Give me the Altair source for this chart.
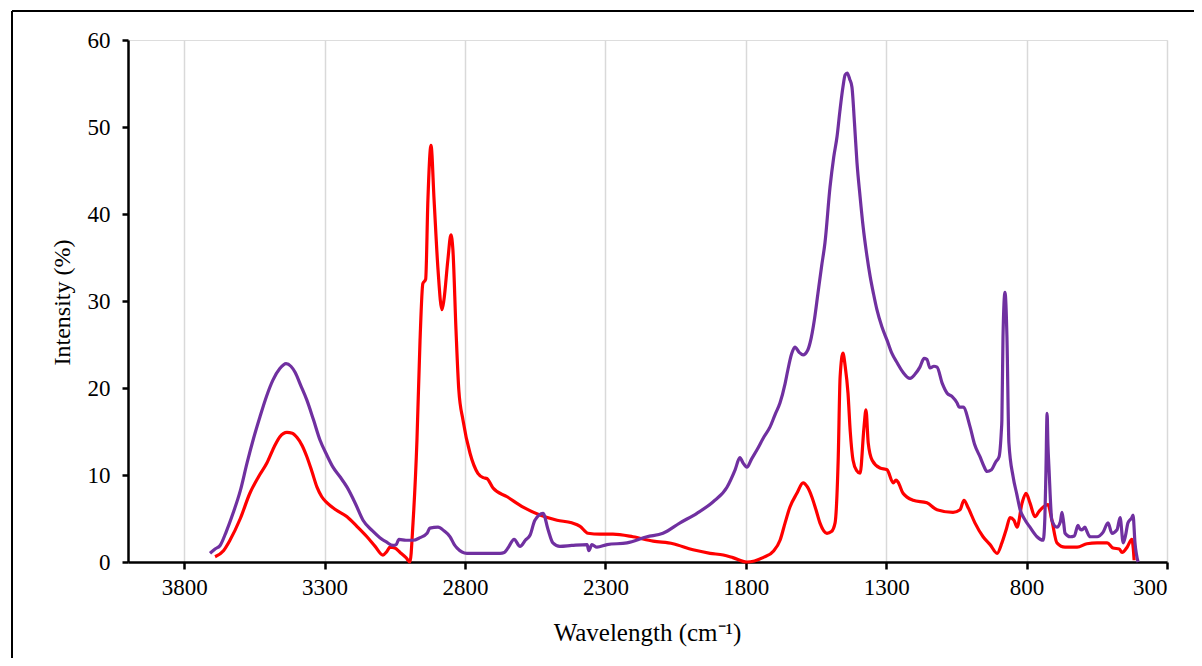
import altair as alt
import pandas as pd

# Red spectrum (wavenumber, intensity)
red_wn = [3690, 3660, 3637, 3600, 3566, 3535, 3505, 3480, 3459, 3434, 3415, 3398, 3380, 3363, 3345, 3327,
          3310, 3291, 3260, 3220, 3185, 3149, 3120, 3092, 3078, 3067, 3050, 3031, 3010, 2996, 2985, 2971,
          2960, 2950, 2940, 2932, 2921, 2910, 2896, 2882, 2875, 2861, 2850, 2843, 2832, 2822, 2807, 2782,
          2754, 2735, 2722, 2700, 2650, 2593, 2533, 2472, 2420, 2390, 2362, 2319, 2273, 2202, 2130, 2059,
          1988, 1927, 1880, 1846, 1796, 1739, 1700, 1678, 1660, 1643, 1618, 1596, 1580, 1565, 1550, 1536,
          1511, 1495, 1482, 1471, 1464, 1454, 1446, 1436, 1428, 1418, 1405, 1393, 1379, 1372, 1364, 1350,
          1322, 1297, 1275, 1265, 1258, 1240, 1204, 1155, 1119, 1062, 1037, 1023, 1009, 984, 955, 930,
          905, 888, 872, 859, 845, 834, 816, 802, 788, 770, 756, 745, 724, 710, 692, 663, 620, 585, 549,
          513, 492, 470, 460, 442, 425, 420, 417]
red_val = [0.6, 1.3, 2.5, 5.0, 7.9, 9.8, 11.4, 13.2, 14.4, 14.9, 14.8, 14.3, 13.4, 12.1, 10.4, 8.6,
           7.5, 6.8, 6.0, 5.2, 4.1, 2.9, 1.8, 0.8, 1.2, 1.7, 1.6, 1.1, 0.5, 0.0, 4.5, 14.0,
           25.5, 32.0, 32.5, 41.6, 47.9, 41.6, 33.6, 29.0, 30.1, 34.7, 37.6, 35.9, 26.7, 19.8, 16.3, 12.5,
           10.2, 9.7, 9.6, 8.5, 7.5, 6.3, 5.4, 4.8, 4.5, 4.1, 3.3, 3.2, 3.2, 2.9, 2.4, 2.1,
           1.4, 1.0, 0.8, 0.5, 0.0, 0.5, 1.3, 2.5, 4.5, 6.3, 7.9, 9.1, 8.6, 7.5, 6.0, 4.5,
           3.3, 3.5, 4.5, 11.7, 21.3, 24.0, 22.5, 19.4, 15.0, 11.7, 10.5, 10.2, 15.5, 17.5, 13.7, 11.7,
           10.8, 10.6, 9.1, 9.4, 9.2, 7.9, 7.1, 6.8, 6.0, 5.7, 6.0, 7.1, 6.3, 4.5, 2.9, 2.0,
           1.0, 2.2, 3.8, 5.1, 4.8, 4.0, 6.8, 7.9, 6.8, 5.2, 5.8, 6.2, 6.6, 4.8, 2.2, 1.7, 1.7, 2.1, 2.2,
           2.2, 1.6, 1.5, 1.1, 1.7, 2.6, 1.5, 0.2]

# Purple spectrum (wavenumber, intensity)
purple_wn = [3708, 3690, 3672, 3650, 3626, 3600, 3576, 3553, 3530, 3505, 3484, 3460, 3437, 3420, 3405, 3385,
             3363, 3340, 3316, 3292, 3270, 3245, 3220, 3190, 3163, 3130, 3103, 3080, 3056, 3045, 3035, 3010,
             2985, 2960, 2935, 2925, 2896, 2875, 2853, 2838, 2828, 2793, 2722, 2675, 2660, 2647, 2625, 2604,
             2585, 2568, 2551, 2522, 2504, 2487, 2462, 2420, 2365, 2359, 2348, 2330, 2294, 2223, 2152, 2095,
             2034, 1974, 1917, 1867, 1838, 1821, 1810, 1796, 1780, 1760, 1735, 1714, 1695, 1678, 1660, 1650,
             1637, 1625, 1610, 1596, 1580, 1571, 1555, 1543, 1530, 1518, 1500, 1487, 1475, 1465, 1454, 1446,
             1439, 1430, 1422, 1413, 1404, 1393, 1382, 1370, 1357, 1345, 1333, 1315, 1297, 1280, 1261, 1240,
             1215, 1197, 1180, 1165, 1155, 1144, 1130, 1119, 1100, 1083, 1065, 1048, 1040, 1026, 1001, 985,
             966, 952, 941, 925, 910, 898, 890, 888, 884, 877, 870, 863, 848, 835, 823, 805, 788, 763, 741,
             735, 731, 727, 724, 720, 710, 692, 680, 674, 668, 663, 645, 630, 617, 610, 603, 592, 585, 574,
             549, 528, 510, 496, 478, 467, 456, 448, 439, 425, 421, 414, 403]
purple_val = [1.0, 1.5, 1.9, 3.5, 5.6, 8.2, 11.4, 14.2, 16.7, 19.2, 20.9, 22.2, 22.8, 22.5, 21.8, 20.3,
              18.6, 16.4, 14.0, 12.3, 10.9, 9.8, 8.6, 6.7, 4.8, 3.6, 2.8, 2.3, 1.9, 2.0, 2.6, 2.5,
              2.5, 2.8, 3.3, 3.9, 4.0, 3.6, 2.9, 2.0, 1.6, 1.0, 1.0, 1.0, 1.1, 1.6, 2.6, 1.8,
              2.5, 3.1, 4.8, 5.6, 3.7, 2.2, 1.8, 1.9, 2.0, 1.3, 2.0, 1.7, 2.0, 2.2, 2.9, 3.3,
              4.5, 5.6, 6.9, 8.6, 10.6, 12.0, 11.4, 10.9, 11.8, 12.9, 14.4, 15.5, 17.0, 18.3, 20.5, 22.1,
              23.9, 24.7, 24.1, 23.8, 24.3, 25.2, 28.0, 30.9, 34.0, 36.7, 43.1, 46.5, 48.9, 51.8, 54.6, 56.0,
              56.2, 55.5, 54.6, 50.5, 45.9, 42.0, 38.5, 35.5, 32.8, 30.8, 29.0, 27.0, 25.5, 24.0, 22.9, 21.8,
              21.1, 21.6, 22.4, 23.4, 23.3, 22.3, 22.5, 22.4, 20.5, 19.4, 19.0, 18.3, 17.8, 17.8, 15.5, 13.5,
              12.1, 11.0, 10.4, 10.6, 11.5, 12.1, 15.0, 16.3, 25.9, 31.0, 25.9, 13.7, 9.8, 7.8, 6.0, 4.8, 4.0, 2.9, 2.5,
              5.0, 10.6, 17.1, 13.5, 10.6, 4.8, 4.0, 4.6, 5.7, 4.5, 3.3, 2.9, 3.0, 4.2, 3.8, 3.7, 4.0, 3.5, 2.9,
              2.9, 3.4, 4.5, 3.3, 3.7, 5.1, 2.2, 3.0, 4.5, 5.1, 5.4, 2.2, 0.0]

x_ticks = [3800, 3300, 2800, 2300, 1800, 1300, 800, 300]
y_ticks = [0, 10, 20, 30, 40, 50, 60]

red_df = pd.DataFrame({"wn": red_wn, "val": red_val})
purple_df = pd.DataFrame({"wn": purple_wn, "val": purple_val})

FONT = "Liberation Serif"

x_enc = alt.X(
    "wn:Q",
    scale=alt.Scale(domain=[300, 4000], reverse=True, nice=False, zero=False),
    axis=alt.Axis(
        values=x_ticks, title="Wavelength (cm\u207B\u00B9)", grid=True,
        gridColor="#D9D9D9", gridWidth=1.5,
        domainColor="black", domainWidth=2.5, tickColor="black", tickWidth=2.5, tickSize=7,
        labelFont=FONT, labelFontSize=23, labelColor="black", labelPadding=7, format="d",
        titleFont=FONT, titleFontSize=25, titleFontWeight="normal", titleColor="black",
        titleX=519, titleY=70, titleAlign="center", titleBaseline="middle",
    ),
)
y_enc = alt.Y(
    "val:Q",
    scale=alt.Scale(domain=[0, 60], nice=False),
    axis=alt.Axis(
        values=y_ticks, title="Intensity (%)", grid=False,
        domainColor="black", domainWidth=2.5, tickColor="black", tickWidth=2.5, tickSize=6,
        labelFont=FONT, labelFontSize=23, labelColor="black", labelPadding=12,
        titleFont=FONT, titleFontSize=24, titleFontWeight="normal", titleColor="black",
        titleX=-66, titleY=262, titleAngle=-90, titleAlign="center", titleBaseline="middle",
    ),
)

red_line = alt.Chart(red_df).mark_line(color="#FF0000", strokeWidth=3.2, strokeJoin="round",
                                       interpolate="monotone").encode(x=x_enc, y=y_enc, order="wn:Q")
purple_line = alt.Chart(purple_df).mark_line(color="#7030A0", strokeWidth=3.2, strokeJoin="round",
                                             interpolate="monotone").encode(x="wn:Q", y="val:Q", order="wn:Q")

frame_df = pd.DataFrame({"k": [0]})
frame_left = alt.Chart(frame_df).mark_rule(color="black", strokeWidth=2).encode(
    x=alt.value(-116), y=alt.value(-29), y2=alt.value(640))
frame_top = alt.Chart(frame_df).mark_rule(color="black", strokeWidth=2).encode(
    x=alt.value(-116), x2=alt.value(1100), y=alt.value(-29))

chart = alt.layer(red_line, purple_line, frame_left, frame_top).properties(
    width=1039, height=522,
    autosize=alt.AutoSizeParams(type="none"),
    padding={"left": 120, "top": 32, "right": 27, "bottom": 96},
).configure_view(stroke=None).configure(background="white")

chart.save("out.html", embed_options={"renderer": "svg", "actions": False})
